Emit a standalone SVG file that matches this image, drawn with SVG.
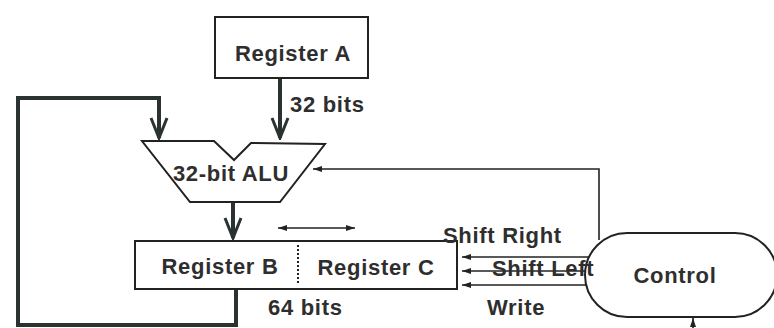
<svg xmlns="http://www.w3.org/2000/svg" width="774" height="328" viewBox="0 0 774 328">
<style>
  text { font-family: "Liberation Sans", Arial, sans-serif; font-weight: bold; font-size: 22px; fill: #2e2e2e; letter-spacing: 0.7px; }
  .box { fill: #fff; stroke: #222; stroke-width: 2; }
  .thick { fill: none; stroke: #2a3232; stroke-width: 4; }
  .thin { fill: none; stroke: #222; stroke-width: 1.6; }
</style>
<defs>
  <marker id="vhead" viewBox="-22 -10 24 20" refX="0" refY="0" markerWidth="24" markerHeight="20" markerUnits="userSpaceOnUse" orient="auto">
    <path d="M-20,-8 L0,0 L-20,8" fill="none" stroke="#2a3232" stroke-width="3"/>
  </marker>
  <marker id="tri" viewBox="-10 -4 11 8" refX="0" refY="0" markerWidth="11" markerHeight="8" markerUnits="userSpaceOnUse" orient="auto">
    <path d="M-9,-3 L0,0 L-9,3 Z" fill="#222"/>
  </marker>
  <marker id="tri2" viewBox="-10 -4 11 8" refX="0" refY="0" markerWidth="11" markerHeight="8" markerUnits="userSpaceOnUse" orient="auto-start-reverse">
    <path d="M-9,-3 L0,0 L-9,3 Z" fill="#222"/>
  </marker>
</defs>

<g id="connectors">
  <path class="thick" d="M280,79 L280,138" marker-end="url(#vhead)"/>
  <path class="thick" d="M236,289 L236,325 L18,325 L18,98 L159,98 L159,138" marker-end="url(#vhead)"/>
  <path class="thick" d="M233,202 L233,238" marker-end="url(#vhead)"/>
  <path class="thin" d="M599,240 L599,169 L313,169" marker-end="url(#tri)"/>
  <path class="thin" d="M278,228 L355,228" marker-start="url(#tri2)" marker-end="url(#tri2)"/>
  <path class="thin" d="M590,257 L462,257" marker-end="url(#tri)"/>
  <path class="thin" d="M586,271 L462,271" marker-end="url(#tri)"/>
  <path class="thin" d="M590,285 L462,285" marker-end="url(#tri)"/>
  <path class="thin" d="M693,330 L693,318" marker-end="url(#tri)"/>
</g>

<g id="registerA">
  <rect class="box" x="215" y="17" width="153" height="61"/>
  <text x="293" y="61" text-anchor="middle">Register A</text>
</g>
<text x="290" y="112">32 bits</text>

<g id="alu">
  <path class="box" d="M142,141 L214,141 L234,160 L251,143 L325,144 L280,202 L190,202 Z"/>
  <text x="231" y="181" text-anchor="middle">32-bit ALU</text>
</g>

<g id="registerBC">
  <rect class="box" x="135" y="241" width="322" height="48"/>
  <line x1="298" y1="245" x2="298" y2="285" stroke="#222" stroke-width="2" stroke-dasharray="2,2"/>
  <text x="220" y="274" text-anchor="middle">Register B</text>
  <text x="376" y="275" text-anchor="middle">Register C</text>
</g>
<text x="268" y="315">64 bits</text>

<g id="control">
  <rect class="box" x="585" y="233" width="192" height="84" rx="42" ry="42"/>
  <text x="675" y="283" text-anchor="middle">Control</text>
</g>

<g id="labels">
  <text x="443" y="243">Shift Right</text>
  <text x="492" y="276">Shift Left</text>
  <text x="487" y="315">Write</text>
</g>
</svg>
